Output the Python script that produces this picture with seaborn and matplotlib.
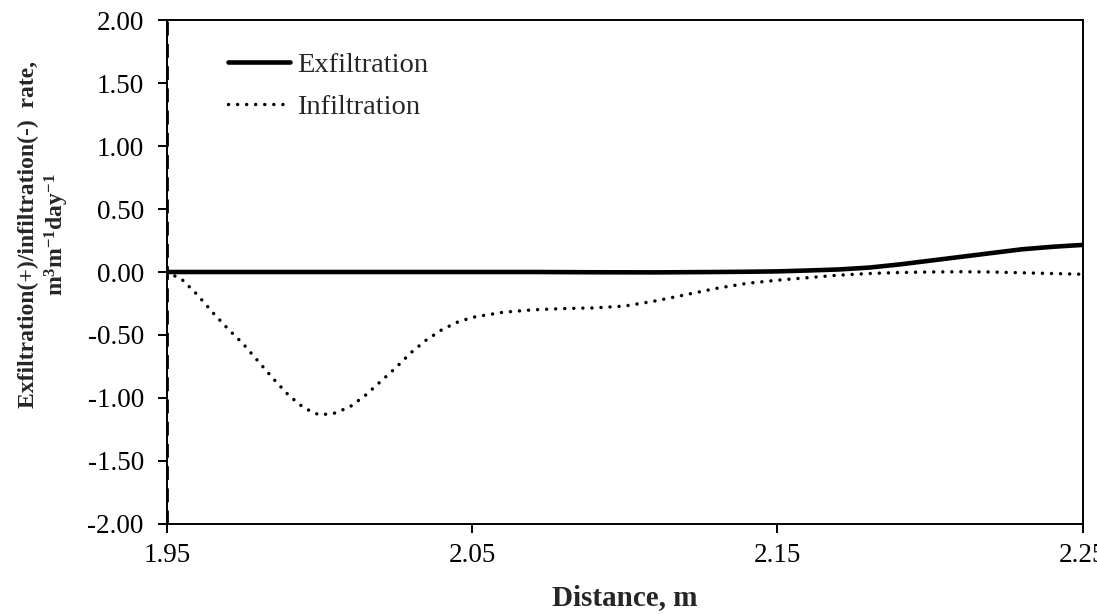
import matplotlib
matplotlib.use("Agg")
import matplotlib.pyplot as plt
import seaborn as sns
import pandas as pd

# Exfiltration profile along the cross-section
exf_x = [1.95, 1.97, 1.99, 2.01, 2.03, 2.05, 2.07, 2.09, 2.11, 2.13, 2.14,
         2.15, 2.16, 2.17, 2.18, 2.19, 2.20, 2.21, 2.22, 2.23, 2.24, 2.25]
exf_y = [0.0, 0.0, 0.0, 0.0, 0.0, 0.0, 0.0, -0.002, -0.003, 0.0, 0.002,
         0.005, 0.012, 0.02, 0.035, 0.06, 0.09, 0.12, 0.15, 0.18, 0.20, 0.215]

# Infiltration profile along the cross-section
inf_x = [1.950, 1.955, 1.960, 1.965, 1.970, 1.975, 1.980, 1.985, 1.990, 1.995,
         2.000, 2.005, 2.010, 2.015, 2.020, 2.025, 2.030, 2.035, 2.040, 2.045,
         2.050, 2.060, 2.070, 2.080, 2.090, 2.100, 2.110, 2.120, 2.130, 2.140,
         2.150, 2.160, 2.170, 2.180, 2.190, 2.200, 2.210, 2.220, 2.230, 2.240,
         2.250]
inf_y = [0.00, -0.06, -0.18, -0.32, -0.45, -0.57, -0.71, -0.85, -0.98, -1.08,
         -1.135, -1.12, -1.07, -0.98, -0.87, -0.76, -0.64, -0.54, -0.46, -0.40,
         -0.36, -0.32, -0.30, -0.29, -0.285, -0.27, -0.23, -0.18, -0.13, -0.09,
         -0.065, -0.045, -0.025, -0.012, -0.004, 0.000, 0.002, 0.000, -0.006, -0.012,
         -0.018]

x_ticks = [1.95, 2.05, 2.15, 2.25]
y_ticks = [-2.0, -1.5, -1.0, -0.5, 0.0, 0.5, 1.0, 1.5, 2.0]

sns.set_theme(style="white")
plt.rcParams["font.family"] = ["Liberation Serif", "DejaVu Serif"]
plt.rcParams["mathtext.fontset"] = "custom"
plt.rcParams["mathtext.rm"] = "Liberation Serif"
plt.rcParams["mathtext.bf"] = "Liberation Serif:bold"

DOTS = (0.01, 2.6)

fig = plt.figure(figsize=(10.97, 6.14), dpi=100)
ax = fig.add_axes([0.152, 0.1466, 0.835, 0.8208])

exf = pd.DataFrame({"x": exf_x, "y": exf_y})
inf = pd.DataFrame({"x": inf_x, "y": inf_y})

sns.lineplot(data=exf, x="x", y="y", ax=ax, color="black", linewidth=3.3,
             label="Exfiltration", estimator=None, sort=False)
sns.lineplot(data=inf, x="x", y="y", ax=ax, color="black", linewidth=2.5,
             label="Infiltration", estimator=None, sort=False)
dotted = ax.lines[1]
dotted.set_dashes(DOTS)
dotted.set_dash_capstyle("round")

# boundary marker at the start of the section
ax.axvline(1.95, color="black", linestyle=(0, (5, 3)), linewidth=2.0, zorder=1)

ax.set_xlim(1.95, 2.25)
ax.set_ylim(-2.0, 2.0)
ax.set_xticks(x_ticks)
ax.set_xticklabels([f"{v:.2f}" for v in x_ticks])
ax.set_yticks(y_ticks)
ax.set_yticklabels([f"{v:.2f}" for v in y_ticks])

for side in ["left", "right", "top", "bottom"]:
    ax.spines[side].set_color("black")
    ax.spines[side].set_linewidth(1.4)

ax.tick_params(axis="both", which="major", direction="out", length=6.5, width=1.4,
               color="black", labelsize=19.5, labelcolor="black",
               left=True, bottom=True)
ax.tick_params(axis="y", pad=10)
ax.tick_params(axis="x", pad=7)

ax.set_xlabel("Distance, m", fontsize=21, fontweight="bold", labelpad=12)
ax.set_ylabel("Exfiltration(+)/infiltration(-)  rate,\n"
              r"$\mathbf{m^{3}m^{-1}day^{-1}}$",
              fontsize=17, fontweight="bold", linespacing=1.15)
ax.yaxis.set_label_coords(-0.105, 0.575)

leg = ax.legend(loc="upper left", frameon=False, fontsize=20.5, handlelength=2.2,
                handletextpad=0.25, labelspacing=0.55,
                bbox_to_anchor=(0.0385, 0.987))
for h in leg.get_lines():
    h.set_color("black")
leg.get_lines()[0].set_linewidth(3.3)
leg.get_lines()[1].set_dashes(DOTS)
leg.get_lines()[1].set_dash_capstyle("round")

fig.savefig("out.png", dpi=100)
